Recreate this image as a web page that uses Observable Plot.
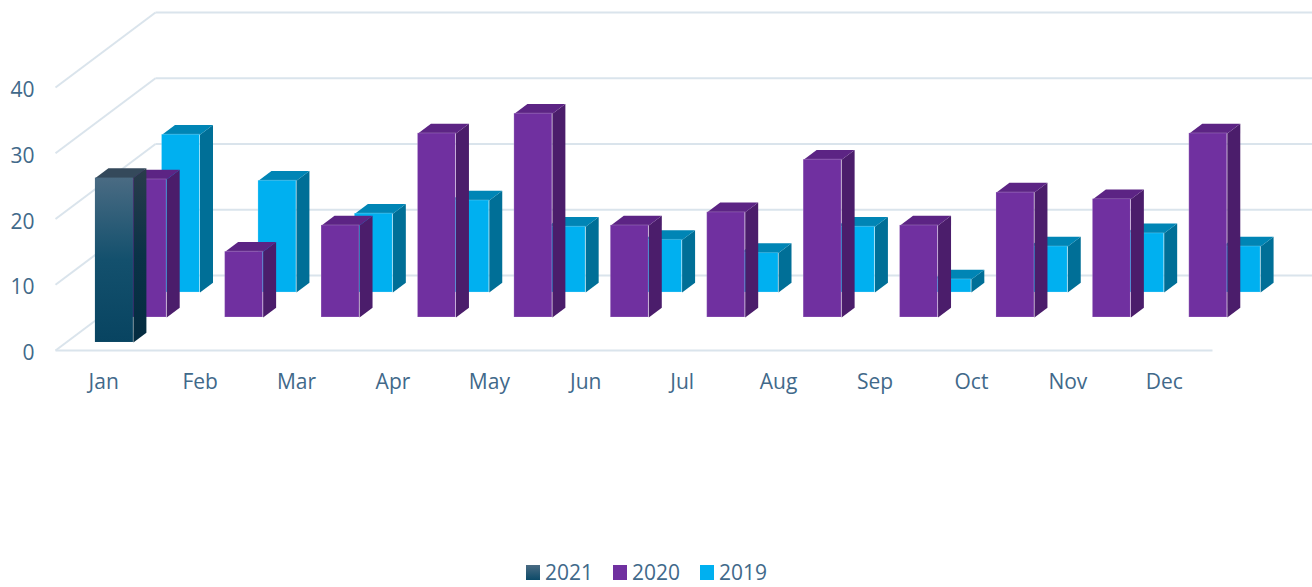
<!DOCTYPE html>
<html><head><meta charset="utf-8">
<script src="https://cdn.jsdelivr.net/npm/d3@7"></script>
<script src="https://cdn.jsdelivr.net/npm/@observablehq/plot@0.6"></script>
<style>
html,body{margin:0;padding:0;background:#fff;}
#wrap{position:relative;width:1312px;height:587px;overflow:hidden;background:#fff;}
#legend{position:absolute;left:526px;top:560px;display:flex;align-items:center;font-family:'Open Sans',sans-serif;font-size:21px;color:#41698A;line-height:24px;}
.item{display:flex;align-items:center;margin-right:20px;}
.sw{width:14px;height:15px;margin-right:5px;}
</style></head><body>
<div id="wrap"><div id="chart"></div><div id="legend"></div></div>
<script>
// ---- data ----
const months = ["Jan","Feb","Mar","Apr","May","Jun","Jul","Aug","Sep","Oct","Nov","Dec"];
const seriesNames = ["2021","2020","2019"];
const values2021 = [25,null,null,null,null,null,null,null,null,null,null,null];
const values2020 = [21,10,14,28,31,14,16,24,14,19,18,28];
const values2019 = [24,17,12,14,10,8,6,10,2,7,9,7];
const yTicks = [0,10,20,30,40];

// ---- layout (pixels) ----
const W = 1312, H = 552;
const mLeft = 55, mRight = 100, mTop = 87, mBottom = 202;
const depthPx = [100, 75];
const rowFront = [0.107, 0.44, 0.773];
const barDepth = 0.13, barWidth = 0.394;

const pxPerCat = (W - mLeft - mRight) / months.length;
const pxPerVal = (H - mTop - mBottom) / (yTicks[yTicks.length-1]);
const DX = depthPx[0] / pxPerCat;
const DY = depthPx[1] / pxPerVal;

const styles = [
  {name: seriesNames[0], values: values2021, front: "url(#g2021f)", side: "url(#g2021s)", top: "#34495B", swatch: "linear-gradient(#4A6B83,#0C4A68)"},
  {name: seriesNames[1], values: values2020, front: "#7030A0", side: "#4B1D6B", top: "#5C2484", swatch: "#7030A0"},
  {name: seriesNames[2], values: values2019, front: "#00B0F0", side: "#006F97", top: "#0085B5", swatch: "#00B0F0"}
];

// ---- grid ----
const grid = "#DAE4EC";
const wallLines = yTicks.map(v => ({x1: 0, y1: v, x2: DX, y2: v + DY}));
const backLines = yTicks.map(v => ({x1: DX, y1: v + DY, x2: months.length + DX, y2: v + DY}));
const floorFront = [{x1: 0, y1: 0, x2: months.length, y2: 0}];

const marks = [
  Plot.link(wallLines, {x1: "x1", y1: "y1", x2: "x2", y2: "y2", stroke: grid, strokeWidth: 2}),
  Plot.link(backLines, {x1: "x1", y1: "y1", x2: "x2", y2: "y2", stroke: grid, strokeWidth: 2}),
  Plot.link(floorFront, {x1: "x1", y1: "y1", x2: "x2", y2: "y2", stroke: grid, strokeWidth: 2})
];

// ---- bars, back row first ----
for (let k = styles.length - 1; k >= 0; k--) {
  const s = styles[k];
  const f = rowFront[k];
  const fronts = [], sides = [], tops = [];
  const ddx = barDepth * DX, ddy = barDepth * DY;
  s.values.forEach((v, i) => {
    if (v == null) return;
    const x0 = i + 0.5 - barWidth / 2 + f * DX, x1 = x0 + barWidth;
    const y0 = f * DY, y1 = y0 + v;
    fronts.push({x1: x0, x2: x1, y1: y0, y2: y1, month: months[i], value: v});
    const id = s.name + "-" + i;
    [[x1,y0],[x1,y1],[x1+ddx,y1+ddy],[x1+ddx,y0+ddy],[x1,y0]].forEach(([x,y]) => sides.push({id, x, y}));
    [[x0,y1],[x1,y1],[x1+ddx,y1+ddy],[x0+ddx,y1+ddy],[x0,y1]].forEach(([x,y]) => tops.push({id, x, y}));
  });
  marks.push(
    Plot.line(sides, {x: "x", y: "y", z: "id", fill: s.side, stroke: "none", curve: "linear"}),
    Plot.line(tops, {x: "x", y: "y", z: "id", fill: s.top, stroke: "none", curve: "linear"}),
    Plot.rect(fronts, {x1: "x1", x2: "x2", y1: "y1", y2: "y2", fill: s.front, stroke: k === 0 ? "none" : "#ffffff", strokeOpacity: 0.2, strokeWidth: 1})
  );
}

const xTickPos = months.map((_, i) => i + 0.5);
const xFmt = d => months[Math.round(d - 0.5)];
const hasAxisMarks = typeof Plot.axisX === "function";
if (hasAxisMarks) {
  marks.push(
    Plot.axisX({ticks: xTickPos, tickFormat: xFmt, tickSize: 0, tickPadding: 24, label: null}),
    Plot.axisY({ticks: yTicks, tickSize: 0, tickPadding: 21, dy: 3, label: null})
  );
}

const chart = Plot.plot({
  width: W, height: H,
  marginLeft: mLeft, marginRight: mRight, marginTop: mTop, marginBottom: mBottom,
  style: {fontFamily: "'Open Sans', sans-serif", fontSize: "21px", color: "#41698A", background: "white", overflow: "visible"},
  x: hasAxisMarks ? {domain: [0, months.length]} : {domain: [0, months.length], ticks: xTickPos, tickFormat: xFmt, tickSize: 0, tickPadding: 24, label: null},
  y: hasAxisMarks ? {domain: [0, yTicks[yTicks.length-1]]} : {domain: [0, yTicks[yTicks.length-1]], ticks: yTicks, tickSize: 0, tickPadding: 21, label: null},
  marks
});

const svg = d3.select(chart.tagName.toLowerCase() === "svg" ? chart : chart.querySelector("svg"));
const defs = svg.insert("defs", ":first-child");
const gf = defs.append("linearGradient").attr("id", "g2021f").attr("x1", 0).attr("y1", 0).attr("x2", 0).attr("y2", 1);
gf.append("stop").attr("offset", 0).attr("stop-color", "#4A6B83");
gf.append("stop").attr("offset", 0.5).attr("stop-color", "#13506D");
gf.append("stop").attr("offset", 1).attr("stop-color", "#084461");
const gs = defs.append("linearGradient").attr("id", "g2021s").attr("x1", 0).attr("y1", 0).attr("x2", 0).attr("y2", 1);
gs.append("stop").attr("offset", 0).attr("stop-color", "#2A3C4B");
gs.append("stop").attr("offset", 0.5).attr("stop-color", "#0A3247");
gs.append("stop").attr("offset", 1).attr("stop-color", "#042C40");

document.getElementById("chart").appendChild(chart);

// ---- legend ----
const legend = d3.select("#legend");
styles.forEach(s => {
  const it = legend.append("div").attr("class", "item");
  it.append("div").attr("class", "sw").style("background", s.swatch);
  it.append("span").text(s.name);
});
</script>
</body></html>
